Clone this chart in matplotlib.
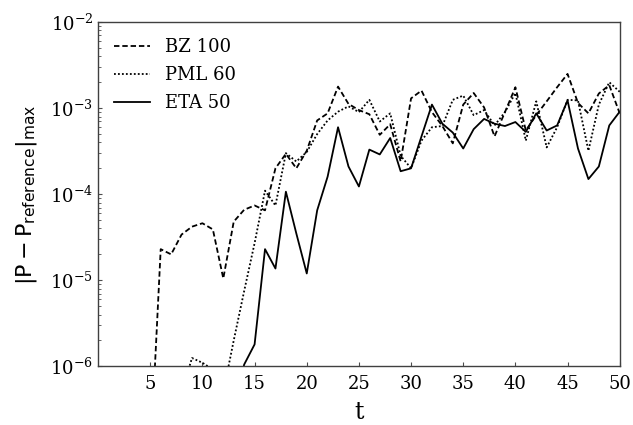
import numpy as np
import matplotlib
matplotlib.use("Agg")
import matplotlib.pyplot as plt

# ---- data ----
t_bz = np.arange(5, 51)
bz_100 = [8e-8, 2.3e-5, 2.0e-5, 3.4e-5, 4.2e-5, 4.6e-5, 3.9e-5, 1.05e-5, 4.8e-5, 6.6e-5,
          7.4e-5, 6.5e-5, 2.0e-4, 2.95e-4, 2.0e-4, 3.2e-4, 7.2e-4, 8.7e-4, 1.78e-3, 1.12e-3,
          9.5e-4, 8.5e-4, 4.9e-4, 6.5e-4, 2.4e-4, 1.3e-3, 1.6e-3, 9.0e-4, 6.2e-4, 3.9e-4,
          1.1e-3, 1.5e-3, 1.02e-3, 4.7e-4, 9.0e-4, 1.75e-3, 5.5e-4, 8.3e-4, 1.2e-3, 1.75e-3,
          2.5e-3, 1.15e-3, 8.7e-4, 1.48e-3, 1.85e-3, 8.7e-4]

t_pml = np.arange(8, 51)
pml_60 = [5e-7, 1.25e-6, 1.1e-6, 9.2e-7, 5e-7, 2.0e-6, 7.5e-6, 2.7e-5, 1.1e-4, 7.4e-5,
          3.0e-4, 2.4e-4, 3.1e-4, 5.0e-4, 7.2e-4, 9.1e-4, 1.05e-3, 9.0e-4, 1.25e-3, 7.0e-4,
          8.7e-4, 2.8e-4, 2.0e-4, 4.2e-4, 6.0e-4, 6.2e-4, 1.25e-3, 1.4e-3, 8.3e-4, 9.5e-4,
          6.3e-4, 9.0e-4, 1.5e-3, 4.2e-4, 1.2e-3, 3.5e-4, 6.0e-4, 1.25e-3, 1.23e-3, 3.2e-4,
          1.1e-3, 2.0e-3, 1.55e-3]

t_eta = np.arange(13, 51)
eta_50 = [3e-7, 1.05e-6, 1.8e-6, 2.3e-5, 1.37e-5, 1.07e-4, 3.5e-5, 1.2e-5, 6.5e-5, 1.6e-4,
          6.0e-4, 2.1e-4, 1.23e-4, 3.3e-4, 2.9e-4, 4.5e-4, 1.85e-4, 2.0e-4, 4.7e-4, 1.1e-3,
          6.6e-4, 5.2e-4, 3.4e-4, 5.7e-4, 7.5e-4, 6.6e-4, 6.2e-4, 6.9e-4, 5.3e-4, 8.7e-4,
          5.5e-4, 6.3e-4, 1.23e-3, 3.4e-4, 1.5e-4, 2.1e-4, 6.3e-4, 9.1e-4]

labels = ["BZ 100", "PML 60", "ETA 50"]
x_ticks = [5, 10, 15, 20, 25, 30, 35, 40, 45, 50]

# ---- style ----
plt.rcParams['font.family'] = 'serif'
plt.rcParams['font.serif'] = ['DejaVu Serif']
plt.rcParams['mathtext.fontset'] = 'dejavusans'

fig = plt.figure(figsize=(6.33, 4.25), dpi=100)
ax = fig.add_axes([0.155, 0.138, 0.824, 0.810])

ax.plot(t_bz, bz_100, color='black', lw=1.3, linestyle=(0, (3, 1.6)), label=labels[0])
ax.plot(t_pml, pml_60, color='black', lw=1.3, linestyle=(0, (1, 1.2)), label=labels[1])
ax.plot(t_eta, eta_50, color='black', lw=1.3, linestyle='-', label=labels[2])

ax.set_yscale('log')
ax.set_ylim(1e-6, 1e-2)
ax.set_xlim(0, 50)
ax.set_xticks(x_ticks)
ax.tick_params(axis='both', which='both', direction='in', labelsize=13)
ax.tick_params(axis='x', which='major', pad=6)
ax.tick_params(axis='both', which='major', length=3, width=0.8, color='0.3')
ax.tick_params(axis='y', which='minor', length=2, width=0.6, color='0.3')
for s in ax.spines.values():
    s.set_color('0.25')
    s.set_linewidth(1.0)

ax.set_xlabel('t', fontsize=17, labelpad=6)
ax.set_ylabel(r'$\mathrm{|P - P_{reference}|_{max}}$', fontsize=16, labelpad=8)

leg = ax.legend(loc='upper left', frameon=False, fontsize=13, handlelength=2.0,
                borderaxespad=0.5, labelspacing=0.55)

fig.savefig('out.png', dpi=100)
